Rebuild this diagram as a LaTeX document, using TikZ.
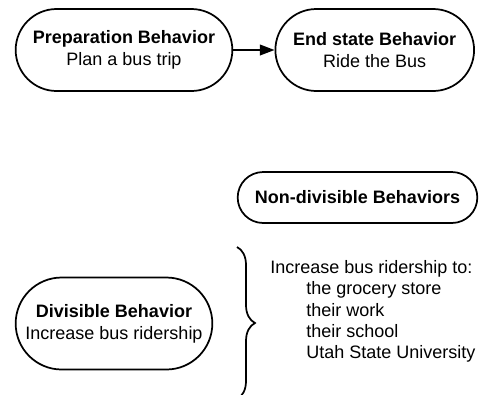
\documentclass[tikz,border=0pt]{standalone}
\usepackage{fontspec}
\setmainfont{Liberation Sans}
\usepackage{tikz}
\usetikzlibrary{arrows.meta,positioning,shapes.misc,decorations.pathreplacing}
\tikzset{
	pill/.style={draw, rounded rectangle, line width=1.3pt, align=center, inner sep=2pt,
		font=\fontsize{13.5}{16.5}\selectfont},
	arrow/.style={-{Triangle[length=11pt, width=8pt]}, line width=1.3pt},
	brace/.style={decorate, decoration={brace, amplitude=13.5pt}, line width=1.3pt}
}

\begin{document}
\begin{tikzpicture}[x=0.75pt, y=-0.75pt]
	\useasboundingbox (0,0) rectangle (488,394);

	\node[pill, minimum width=166.5pt, minimum height=61.5pt] (prep) at (124,50)
	{\textbf{Preparation Behavior}\\Plan a bus trip};
	\node[pill, minimum width=153pt, minimum height=61.5pt, right=31pt of prep] (endstate)
	{\textbf{End state Behavior}\\Ride the Bus};
	\draw[arrow] (prep) -- (endstate);

	\node[pill, minimum width=183.75pt, minimum height=38.25pt] (nondiv) at (357.5,197.5)
	{\textbf{Non-divisible Behaviors}};

	\node[pill, minimum width=151.5pt, minimum height=69pt] (div) at (114,323.5)
	{\textbf{Divisible Behavior}\\Increase bus ridership};

	% brace runs past the bottom edge
	\coordinate (bracetop) at (237,247);
	\coordinate (bracebot) at (237,399);
	\draw[brace] (bracetop) -- (bracebot);

	\node[anchor=west, inner sep=0pt, align=left, font=\fontsize{13.5}{16}\selectfont] (targets) at (270,311.5)
	{Increase bus ridership to:\\
		\hspace*{27pt}the grocery store\\
		\hspace*{27pt}their work\\
		\hspace*{27pt}their school\\
		\hspace*{27pt}Utah State University};
\end{tikzpicture}
\end{document}
